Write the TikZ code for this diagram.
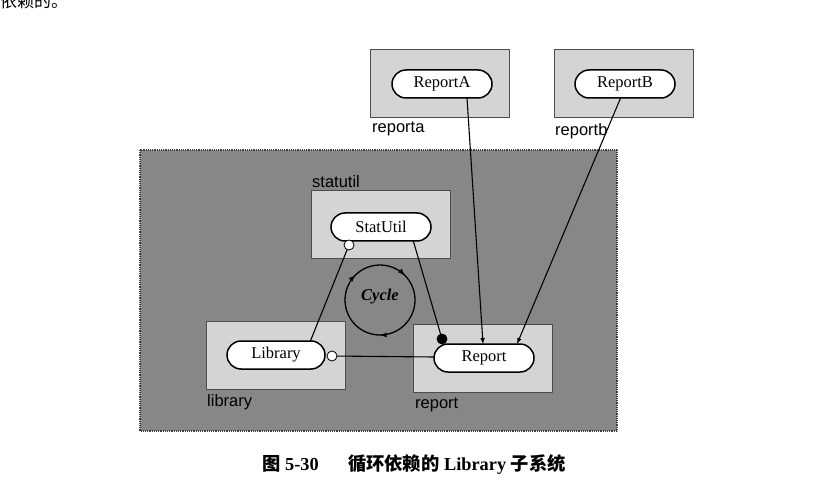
\documentclass[tikz,border=0pt]{standalone}
\usepackage{fontspec}
\setmainfont{Liberation Serif}
\setsansfont{Liberation Sans}
\newfontfamily\cjk{Noto Sans CJK SC}
\usetikzlibrary{shapes.misc,decorations.markings}
\definecolor{pkgfill}{gray}{0.83}
\definecolor{sysfill}{gray}{0.53}
\begin{document}
\begin{tikzpicture}[x=1pt,y=-1pt,line join=round,>=latex,
  pkg/.style={draw=black!70,fill=pkgfill,line width=0.8pt,minimum width=139pt,minimum height=68pt,inner sep=0pt},
  cls/.style={rounded rectangle,draw,fill=white,line width=1.5pt,minimum width=100pt,minimum height=28pt,inner sep=0pt,font=\fontsize{16.5}{18}\selectfont},
  pkglabel/.style={anchor=west,inner sep=0pt,font=\sffamily\fontsize{16.5}{18}\selectfont},
  ball/.style={circle,draw,fill=white,line width=0.8pt,minimum size=10pt,inner sep=0pt},
  dep/.style={line width=1.1pt}]
\useasboundingbox (0,0) rectangle (816,494);

% text cut off above the figure
\node[anchor=south west,inner sep=0pt,font=\cjk\fontsize{17}{19}\selectfont] (prevText) at (0,9) {依赖的。};

% the library subsystem
\filldraw[fill=sysfill,draw=black!75,densely dotted,line width=1.2pt](140,150) rectangle (617,431);

% packages
\node[pkg] (kReportA) at (440,83) {};
\node[pkg] (kReportB) at (624,83) {};
\node[pkg] (kStatUtil) at (380.5,224.5) {};
\node[pkg] (kLibrary) at (275.5,355) {};
\node[pkg] (kReport) at (483,358.5) {};
\node[pkglabel] (lReportA) at (372,129) {reporta};
\node[pkglabel] (lReportB) at (555,131) {reportb};
\node[pkglabel] (lStatUtil) at (312,182) {statutil};
\node[pkglabel] (lLibrary) at (207,402) {library};
\node[pkglabel] (lReport) at (415,405) {report};

% the cycle
\draw[line width=1.3pt,postaction={decorate},decoration={markings,
  mark=at position 0.25 with {\arrow{>}},
  mark=at position 0.625 with {\arrow{>}},
  mark=at position 0.875 with {\arrow{>}}}] (380,300) circle (35);
\node[font=\itshape\bfseries\fontsize{16.5}{18}\selectfont] (cycle) at (380,297) {Cycle};

% connectors
\coordinate (sBall) at (349,245);
\coordinate (libTop) at (310,342);
\coordinate (statOut) at (413,240);
\coordinate (aOut) at (467,98);
\coordinate (aIn) at (483,344);
\coordinate (bOut) at (621,97);
\coordinate (bIn) at (517,344);
\draw[dep] (sBall) -- (libTop);
\draw[dep] (statOut) -- (442,339) coordinate (repBallPos);
\draw[dep] (332,356) coordinate (libBallPos) -- (434,357) coordinate (repLeft);
\draw[dep,->] (aOut) -- (aIn);
\draw[dep,->] (bOut) -- (bIn);

% classes
\node[cls] (pReportA) at (442,84) {ReportA};
\node[cls] (pReportB) at (625,84) {ReportB};
\node[cls] (pStatUtil) at (381,227) {StatUtil};
\node[cls,minimum width=98pt] (pLibrary) at (276,355) {Library};
\node[cls] (pReport) at (484,358) {Report};

\node[ball] (bStatUtil) at (sBall) {};
\node[ball] (bLibrary) at (libBallPos) {};
\node[ball,fill=black] (bReport) at (repBallPos) {};

% caption
\node[font=\bfseries\fontsize{18.3}{20}\selectfont] (caption) at (414,465)
  {{\cjk 图} 5-30\hspace{1.6em}{\cjk 循环依赖的} Library {\cjk 子系统}};
\end{tikzpicture}
\end{document}
